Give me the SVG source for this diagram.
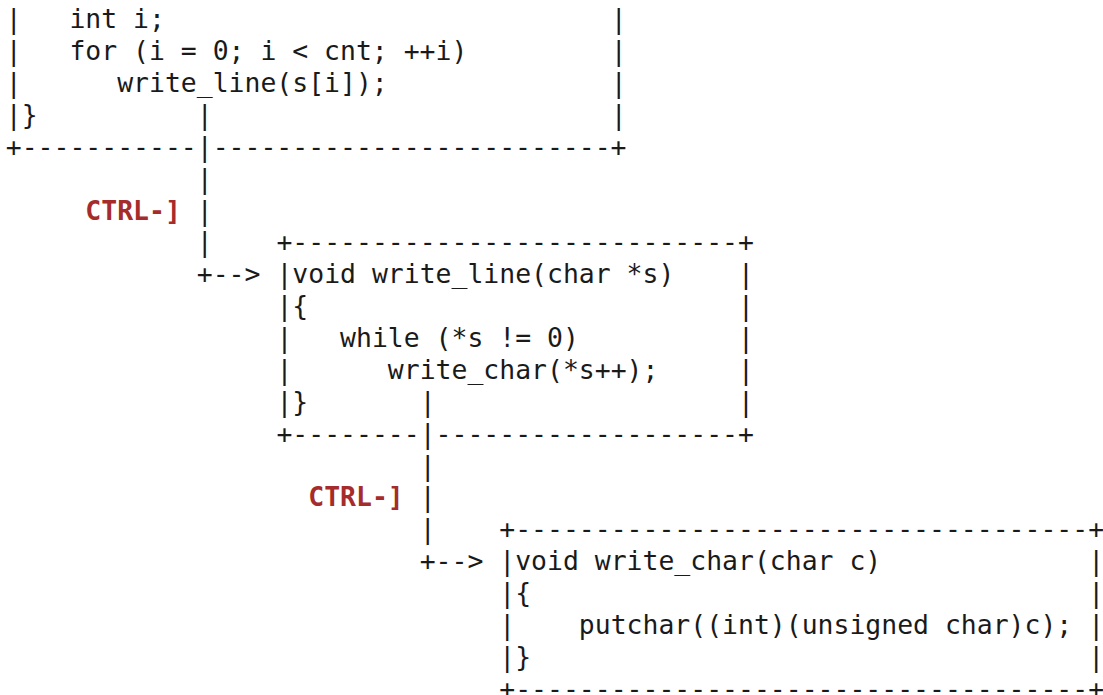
<svg xmlns="http://www.w3.org/2000/svg" width="1103" height="695" viewBox="0 0 1103 695">
<style>
text{font-family:"DejaVu Sans Mono","Liberation Mono",monospace;font-size:26.44px;fill:#1a1a1a;white-space:pre}
.k{fill:#a62b2b;font-weight:bold}
</style>
<rect width="1103" height="695" fill="#ffffff"/>
<g id="node-main" xml:space="preserve">
<text x="5.74" y="28.4">|   int i;</text>
<text x="5.74" y="60.27">|   for (i = 0; i &lt; cnt; ++i)</text>
<text x="5.74" y="92.14">|      write_line(s[i]);</text>
<text x="5.74" y="124.01">|}</text>
<text x="610.66" y="28.4">|</text>
<text x="610.66" y="60.27">|</text>
<text x="610.66" y="92.14">|</text>
<text x="610.66" y="124.01">|</text>
<text x="5.74" y="155.88">+-----------</text>
<text x="212.70" y="155.88">-------------------------+</text>
</g>
<g id="node-write-line" xml:space="preserve">
<text x="276.38" y="251.49">+----------------------------+</text>
<text x="276.38" y="283.36">|void write_line(char *s)</text>
<text x="276.38" y="315.23">|{</text>
<text x="276.38" y="347.1">|   while (*s != 0)</text>
<text x="276.38" y="378.97">|      write_char(*s++);</text>
<text x="276.38" y="410.84">|}</text>
<text x="738.06" y="283.36">|</text>
<text x="738.06" y="315.23">|</text>
<text x="738.06" y="347.1">|</text>
<text x="738.06" y="378.97">|</text>
<text x="738.06" y="410.84">|</text>
<text x="276.38" y="442.71">+--------</text>
<text x="435.58" y="442.71">-------------------+</text>
</g>
<g id="node-write-char" xml:space="preserve">
<text x="499.26" y="538.32">+------------------------------------+</text>
<text x="499.26" y="570.19">|void write_char(char c)</text>
<text x="499.26" y="602.06">|{</text>
<text x="499.26" y="633.93">|    putchar((int)(unsigned char)c);</text>
<text x="499.26" y="665.8">|}</text>
<text x="1088.30" y="570.19">|</text>
<text x="1088.30" y="602.06">|</text>
<text x="1088.30" y="633.93">|</text>
<text x="1088.30" y="665.8">|</text>
<text x="499.26" y="697.67">+------------------------------------+</text>
</g>
<g id="connectors" xml:space="preserve">
<text x="196.78" y="124.01">|</text>
<text x="196.78" y="155.88">|</text>
<text x="196.78" y="187.75">|</text>
<text x="196.78" y="219.62">|</text>
<text x="196.78" y="251.49">|</text>
<text x="196.78" y="283.36">+--&gt;</text>
<text class="k" x="85.34" y="219.62">CTRL-]</text>
<text x="419.66" y="410.84">|</text>
<text x="419.66" y="442.71">|</text>
<text x="419.66" y="474.58">|</text>
<text x="419.66" y="506.45">|</text>
<text x="419.66" y="538.32">|</text>
<text x="419.66" y="570.19">+--&gt;</text>
<text class="k" x="308.22" y="506.45">CTRL-]</text>
</g>
</svg>
